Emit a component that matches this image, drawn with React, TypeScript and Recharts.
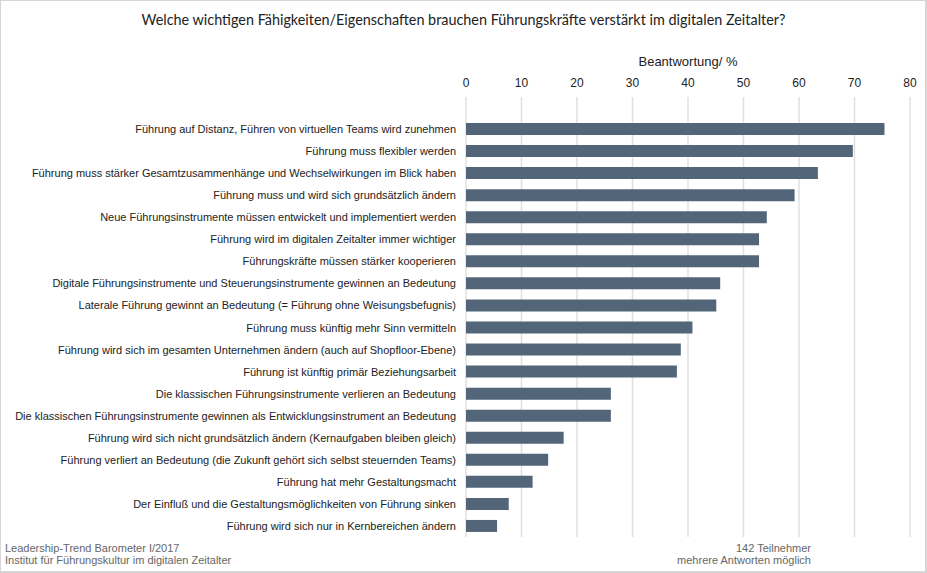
import React from "react";
import { BarChart, Bar, XAxis, YAxis, CartesianGrid } from "recharts";

// Leadership-Trend Barometer I/2017 — Nennungen in % (142 Teilnehmer)
const ITEMS = [
  "Führung auf Distanz, Führen von virtuellen Teams wird zunehmen",
  "Führung muss flexibler werden",
  "Führung muss stärker Gesamtzusammenhänge und Wechselwirkungen im Blick haben",
  "Führung muss und wird sich grundsätzlich ändern",
  "Neue Führungsinstrumente müssen entwickelt und implementiert werden",
  "Führung wird im digitalen Zeitalter immer wichtiger",
  "Führungskräfte müssen stärker kooperieren",
  "Digitale Führungsinstrumente und Steuerungsinstrumente gewinnen an Bedeutung",
  "Laterale Führung gewinnt an Bedeutung (= Führung ohne Weisungsbefugnis)",
  "Führung muss künftig mehr Sinn vermitteln",
  "Führung wird sich im gesamten Unternehmen ändern (auch auf Shopfloor-Ebene)",
  "Führung ist künftig primär Beziehungsarbeit",
  "Die klassischen Führungsinstrumente verlieren an Bedeutung",
  "Die klassischen Führungsinstrumente gewinnen als Entwicklungsinstrument an Bedeutung",
  "Führung wird sich nicht grundsätzlich ändern (Kernaufgaben bleiben gleich)",
  "Führung verliert an Bedeutung (die Zukunft gehört sich selbst steuernden Teams)",
  "Führung hat mehr Gestaltungsmacht",
  "Der Einfluß und die Gestaltungsmöglichkeiten von Führung sinken",
  "Führung wird sich nur in Kernbereichen ändern",
];

const SHARES = [
  75.4, 69.7, 63.4, 59.2, 54.2, 52.8, 52.8, 45.8, 45.1, 40.8, 38.7, 38.0, 26.1,
  26.1, 17.6, 14.8, 12.0, 7.7, 5.6,
];

const X_TICKS = [0, 10, 20, 30, 40, 50, 60, 70, 80];

const data = ITEMS.map((item, i) => ({ item, share: SHARES[i] }));

const SANS = "'Liberation Sans', Arial, sans-serif";

// single-line label, Recharts' own Text would wrap these
function ItemTick(props: any) {
  const { x, y, payload } = props;
  return (
    <text
      x={x}
      y={y}
      dy={4}
      textAnchor="end"
      fontSize={11}
      fill="#222"
      fontFamily={SANS}
    >
      {payload.value}
    </text>
  );
}

export default function App() {
  return (
    <div
      style={{
        position: "absolute",
        left: 0,
        top: 0,
        width: 927,
        height: 573,
        background: "#fff",
        fontFamily: SANS,
      }}
    >
      <div
        style={{
          position: "absolute",
          left: 0,
          top: 0,
          width: 924,
          height: 570,
          border: "1px solid #d6d6d6",
          borderRightWidth: 2,
          borderBottomWidth: 2,
        }}
      />
      <div
        style={{
          position: "absolute",
          left: 0,
          top: 11,
          width: 927,
          textAlign: "center",
          fontFamily: "Lato, 'Open Sans', sans-serif",
          fontSize: 14.4,
          color: "#222",
        }}
      >
        Welche wichtigen Fähigkeiten/Eigenschaften brauchen Führungskräfte verstärkt im digitalen Zeitalter?
      </div>
      <div
        style={{
          position: "absolute",
          left: 588,
          top: 54,
          width: 200,
          textAlign: "center",
          fontSize: 13,
          color: "#222",
        }}
      >
        Beantwortung/ %
      </div>

      <BarChart
        width={927}
        height={573}
        data={data}
        layout="vertical"
        margin={{ top: 67, right: 17, bottom: 36, left: 0 }}
        barSize={12}
      >
        <CartesianGrid
          horizontal={false}
          stroke="#e0e0e0"
          strokeWidth={1.5}
        />
        <XAxis
          type="number"
          orientation="top"
          domain={[0, 80]}
          ticks={X_TICKS}
          height={30}
          axisLine={false}
          tickLine={false}
          tickMargin={4}
          tick={{ fontSize: 12, fill: "#222", fontFamily: SANS }}
        />
        <YAxis
          type="category"
          dataKey="item"
          width={466}
          padding={{ top: 21, bottom: 0 }}
          axisLine={false}
          tickLine={false}
          tickMargin={4}
          interval={0}
          tick={<ItemTick />}
        />
        <Bar dataKey="share" fill="#536679" isAnimationActive={false} />
      </BarChart>

      <div
        style={{
          position: "absolute",
          left: 5,
          top: 542,
          fontSize: 11,
          lineHeight: "12px",
          color: "#666",
        }}
      >
        Leadership-Trend Barometer I/2017
        <br />
        Institut für Führungskultur im digitalen Zeitalter
      </div>
      <div
        style={{
          position: "absolute",
          right: 927 - 811,
          top: 542,
          fontSize: 11,
          lineHeight: "12px",
          color: "#666",
          textAlign: "right",
        }}
      >
        142 Teilnehmer
        <br />
        mehrere Antworten möglich
      </div>
    </div>
  );
}
